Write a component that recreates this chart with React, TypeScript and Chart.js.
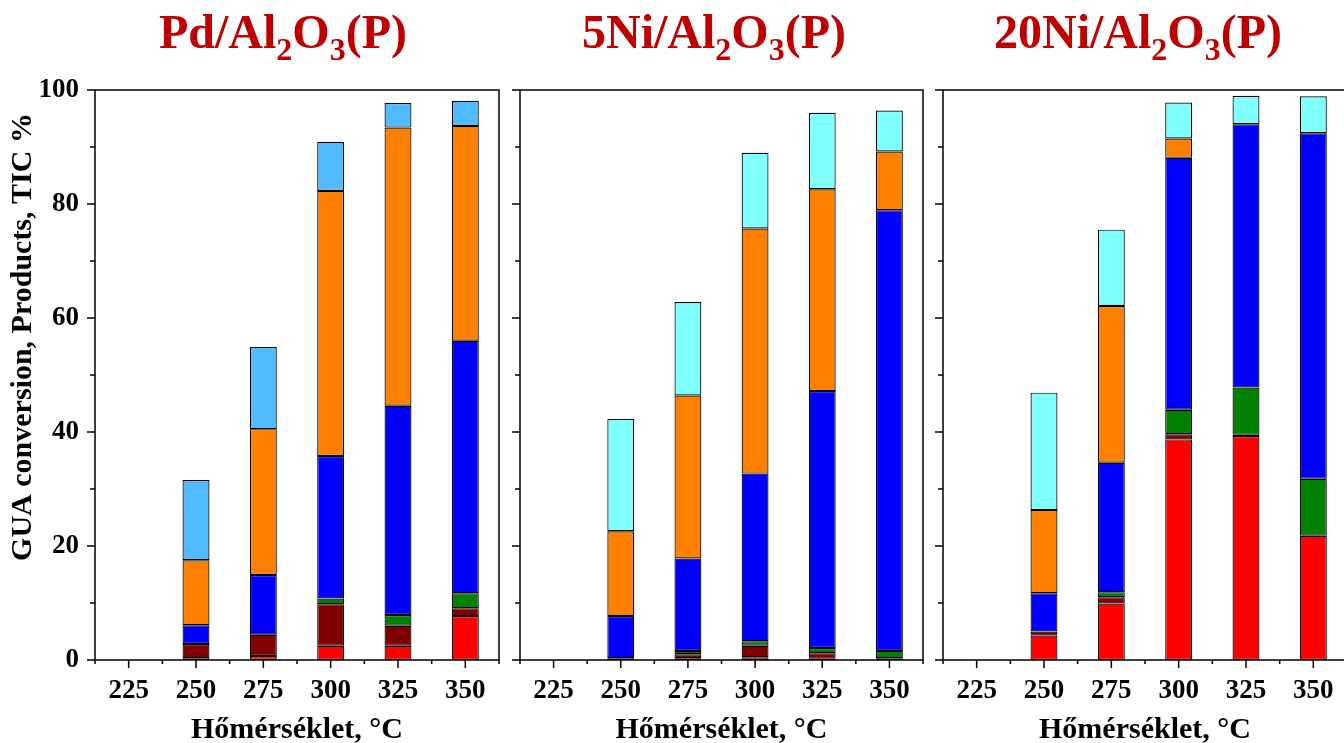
import React, { useEffect, useRef } from 'react';
import { Chart, registerables } from 'chart.js';

Chart.register(...registerables);

// ---- data ----
const temperatures = ['225', '250', '275', '300', '325', '350'];
const yMajorTicks = [0, 20, 40, 60, 80, 100];
const yMinorTicks = [10, 30, 50, 70, 90];
const xTitle = 'Hőmérséklet, °C';
const yTitle = 'GUA conversion, Products, TIC %';

// Pd/Al2O3(P)
const pdRed = [null, 0.3, 0.7, 2.5, 2.5, 7.7];
const pdDarkRed = [null, 2.5, 3.7, 7.3, 3.5, 1.4];
const pdGreen = [null, null, 0.1, 1.0, 1.9, 2.6];
const pdBlue = [null, 3.3, 10.4, 25.0, 36.7, 44.3];
const pdOrange = [null, 11.4, 25.6, 46.5, 48.8, 37.7];
const pdTop = [null, 14.1, 14.4, 8.6, 4.3, 4.4];

// 5Ni/Al2O3(P)
const ni5Red = [null, null, 0.3, 0.5, 0.2, null];
const ni5DarkRed = [null, 0.3, 0.7, 2.0, 1.0, 0.3];
const ni5Green = [null, null, 0.6, 0.8, 0.9, 1.3];
const ni5Blue = [null, 7.4, 16.2, 29.4, 45.1, 77.3];
const ni5Orange = [null, 14.9, 28.6, 43.0, 35.4, 10.3];
const ni5Top = [null, 19.7, 16.4, 13.3, 13.4, 7.2];

// 20Ni/Al2O3(P)
const ni20Red = [null, 4.3, 9.9, 38.7, 39.3, 21.8];
const ni20DarkRed = [null, 0.7, 1.1, 0.9, 0.2, null];
const ni20Green = [null, null, 0.9, 4.3, 8.3, 10.0];
const ni20Blue = [null, 6.7, 22.7, 44.2, 46.2, 60.6];
const ni20Orange = [null, 14.6, 27.5, 3.4, null, null];
const ni20Top = [null, 20.6, 13.4, 6.3, 5.0, 6.5];

const seriesNames = ['Product 1', 'Product 2', 'Product 3', 'Product 4', 'Product 5', 'Product 6'];
const baseColors = ['#FF0000', '#800000', '#008000', '#0000FF', '#FF8000'];

type Part = [string, boolean];

const panels = [
  {
    title: [['Pd/Al', false], ['2', true], ['O', false], ['3', true], ['(P)', false]] as Part[],
    series: [pdRed, pdDarkRed, pdGreen, pdBlue, pdOrange, pdTop],
    topColor: '#50BBFF',
    left: 0, width: 510, yWidth: 95, padRight: 11, titleCenter: 283, showY: true,
  },
  {
    title: [['5Ni/Al', false], ['2', true], ['O', false], ['3', true], ['(P)', false]] as Part[],
    series: [ni5Red, ni5DarkRed, ni5Green, ni5Blue, ni5Orange, ni5Top],
    topColor: '#80FFFF',
    left: 505, width: 430, yWidth: 15, padRight: 12, titleCenter: 714, showY: false,
  },
  {
    title: [['20Ni/Al', false], ['2', true], ['O', false], ['3', true], ['(P)', false]] as Part[],
    series: [ni20Red, ni20DarkRed, ni20Green, ni20Blue, ni20Orange, ni20Top],
    topColor: '#80FFFF',
    left: 930, width: 420, yWidth: 13, padRight: 3, titleCenter: 1138, showY: false,
  },
];

const FONT = '"Liberation Serif", "Times New Roman", serif';

const framePlugin = {
  id: 'frame',
  afterDraw(chart: any, _args: any, opts: any) {
    const { ctx, chartArea: a, scales } = chart;
    const xs = scales.x;
    const ys = scales.y;
    ctx.save();
    ctx.strokeStyle = '#000';
    ctx.lineWidth = 1.5;
    ctx.strokeRect(a.left, a.top, a.right - a.left, a.bottom - a.top);
    ctx.beginPath();
    yMajorTicks.forEach((v) => {
      const py = ys.getPixelForValue(v);
      ctx.moveTo(a.left - 8, py);
      ctx.lineTo(a.left, py);
    });
    yMinorTicks.forEach((v) => {
      const py = ys.getPixelForValue(v);
      ctx.moveTo(a.left - 5, py);
      ctx.lineTo(a.left, py);
    });
    for (let i = 0; i < temperatures.length; i++) {
      const px = xs.getPixelForValue(i);
      ctx.moveTo(px, a.bottom);
      ctx.lineTo(px, a.bottom + 8);
    }
    for (let i = 0; i <= temperatures.length; i++) {
      const px = xs.getPixelForValue(i - 0.5);
      ctx.moveTo(px, a.bottom);
      ctx.lineTo(px, a.bottom + 4);
    }
    ctx.stroke();

    // panel title with subscripts
    const parts: Part[] = opts.title;
    const mainFont = `bold 48px ${FONT}`;
    const subFont = `bold 32px ${FONT}`;
    let total = 0;
    const widths = parts.map(([t, sub]) => {
      ctx.font = sub ? subFont : mainFont;
      const w = ctx.measureText(t).width;
      total += w;
      return w;
    });
    let x = opts.titleCenter - total / 2;
    ctx.fillStyle = '#C00000';
    ctx.textAlign = 'left';
    ctx.textBaseline = 'alphabetic';
    parts.forEach(([t, sub], i) => {
      ctx.font = sub ? subFont : mainFont;
      ctx.fillText(t, x, sub ? 60 : 48);
      x += widths[i];
    });

    if (opts.yTitle) {
      ctx.save();
      ctx.translate(23, 337);
      ctx.rotate(-Math.PI / 2);
      ctx.font = `bold 30px ${FONT}`;
      ctx.fillStyle = '#000';
      ctx.textAlign = 'center';
      ctx.textBaseline = 'middle';
      ctx.fillText(opts.yTitle, 0, 0);
      ctx.restore();
    }
    ctx.restore();
  },
};

function Panel({ p }: { p: (typeof panels)[number] }) {
  const ref = useRef<HTMLCanvasElement | null>(null);
  useEffect(() => {
    if (!ref.current) return;
    const colors = [...baseColors, p.topColor];
    const chart = new Chart(ref.current, {
      type: 'bar',
      data: {
        labels: temperatures,
        datasets: p.series.map((d, i) => ({
          label: seriesNames[i],
          data: d,
          backgroundColor: colors[i],
          borderColor: '#000',
          borderWidth: 1.2,
          borderSkipped: false,
          barPercentage: 0.4,
          categoryPercentage: 1,
        })),
      },
      options: {
        responsive: false,
        animation: false,
        devicePixelRatio: 1,
        layout: { padding: { top: 90, right: p.padRight, left: 0, bottom: 0 } },
        plugins: {
          legend: { display: false },
          tooltip: { enabled: false },
          frame: {
            title: p.title,
            titleCenter: p.titleCenter - p.left,
            yTitle: p.showY ? yTitle : null,
          },
        } as any,
        scales: {
          x: {
            stacked: true,
            offset: true,
            grid: { display: false },
            border: { display: false },
            ticks: {
              color: '#000',
              font: { family: FONT, size: 27, weight: 'bold' },
              padding: 7,
              maxRotation: 0,
              autoSkip: false,
            },
            title: {
              display: true,
              text: xTitle,
              color: '#000',
              font: { family: FONT, size: 30, weight: 'bold' },
              padding: { top: 0, bottom: -5 },
            },
            afterFit: (s: any) => { s.height = 83; },
          },
          y: {
            stacked: true,
            min: 0,
            max: 100,
            grid: { display: false },
            border: { display: false },
            ticks: {
              display: p.showY,
              stepSize: 20,
              color: '#000',
              font: { family: FONT, size: 27, weight: 'bold' },
              padding: 8,
            },
            afterFit: (s: any) => { s.width = p.yWidth; },
          },
        },
      },
      plugins: [framePlugin],
    });
    return () => chart.destroy();
  }, []);
  return (
    <div style={{ position: 'absolute', left: p.left, top: 0, width: p.width, height: 743 }}>
      <canvas ref={ref} width={p.width} height={743} style={{ display: 'block' }} />
    </div>
  );
}

export default function App() {
  return (
    <div style={{ position: 'fixed', left: 0, top: 0, width: 1344, height: 743, overflow: 'hidden', background: '#fff' }}>
      {panels.map((p, i) => (
        <Panel key={i} p={p} />
      ))}
    </div>
  );
}
